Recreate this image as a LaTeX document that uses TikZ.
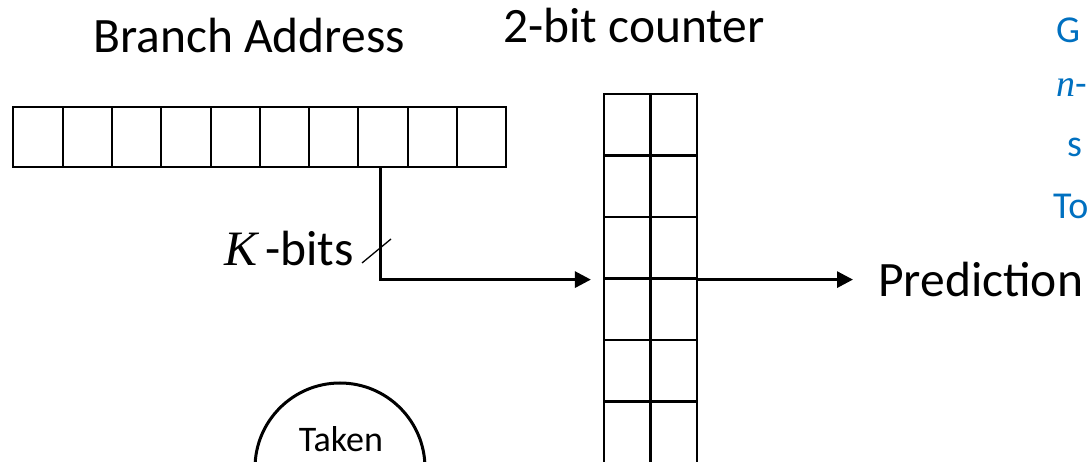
\documentclass[tikz,border=0pt]{standalone}
\usepackage{fontspec}
\setmainfont{Carlito}
\newfontfamily\varfont{Liberation Serif}
\usetikzlibrary{arrows.meta,calc}
\definecolor{accentblue}{RGB}{0,112,192}
\newcommand{\var}[1]{{\varfont\itshape #1}}
\begin{document}
\begin{tikzpicture}[x=1pt,y=-1pt,
  regcell/.style={draw,line width=2pt,minimum width=49.3pt,minimum height=60pt,inner sep=0pt},
  ctrcell/.style={draw,line width=2.2pt,minimum width=46.5pt,minimum height=61.5pt,inner sep=0pt},
  title/.style={font=\fontsize{49.5}{58}\selectfont,inner sep=0pt},
  flow/.style={line width=3pt,-{Triangle[length=16pt,width=16pt]}},
  note/.style={text=accentblue,font=\fontsize{38}{45}\selectfont,inner sep=0pt,anchor=base west}]
\useasboundingbox (0,0) rectangle (1088,462);
\clip (0,0) rectangle (1088,462);

% titles
\node[title,anchor=base] (addrtitle) at (249,53) {Branch Address};
\node[title,anchor=base] (ctrtitle) at (634,43) {2-bit counter};

% branch address register
\foreach \i in {1,...,10}
  \node[regcell] (r\i) at ({13.3+49.3*(\i-0.5)},137) {};

% 2-bit counter table
\foreach \r in {1,...,7}
  \foreach \c in {1,2}
    \node[ctrcell] (c\r\c) at ({604+46.5*(\c-0.5)},{94+61.5*(\r-0.5)}) {};

% index bits into the table
\draw[flow,shorten >=12pt] ([xshift=-3pt]r8.south) |- (c31.south west);
\node[title,anchor=base east] (kbits) at (354,266) {\var{K}\,-bits};
\draw[line width=1.3pt] (362,263) -- (391,239);

% prediction output
\node[title,anchor=base west] (pred) at (878,297) {Prediction};
\draw[flow,shorten >=25pt] (c32.south east) -- (c32.south east -| pred.west);

% state of the counter
\node[draw,circle,line width=3pt,minimum size=170pt,inner sep=0pt] (state) at (340,468) {};
\node[font=\fontsize{36}{43}\selectfont,anchor=base,inner sep=0pt] (takenlbl) at (341,452) {Taken};

% side notes
\node[note] (note1) at (1056,43) {G};
\node[note] (note2) at (1056,97) {\var{n}-};
\node[note] (note3) at (1067,157) {s};
\node[note] (note4) at (1053,219) {To};
\end{tikzpicture}
\end{document}
